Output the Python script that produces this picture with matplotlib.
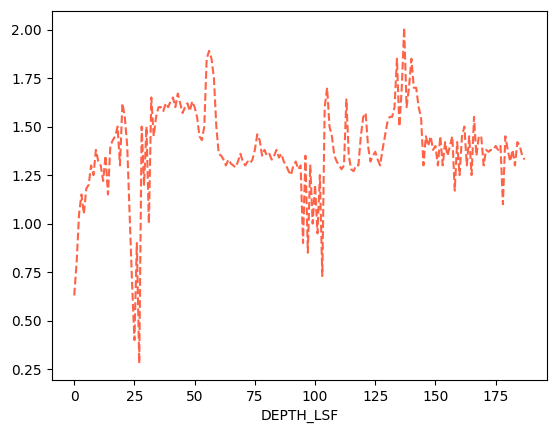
import numpy as np
import matplotlib.pyplot as plt

# log values sampled on an even depth grid
values = [
    0.63, 0.80, 1.05, 1.15, 1.05, 1.18, 1.20, 1.30, 1.25, 1.38,
    1.32, 1.30, 1.22, 1.35, 1.15, 1.40, 1.43, 1.45, 1.50, 1.30,
    1.62, 1.55, 1.40, 1.05, 0.70, 0.40, 0.90, 0.28, 1.50, 1.20,
    1.50, 1.00, 1.65, 1.45, 1.55, 1.60, 1.60, 1.58, 1.62, 1.60,
    1.63, 1.65, 1.60, 1.67, 1.62, 1.57, 1.60, 1.62, 1.58, 1.63,
    1.60, 1.55, 1.45, 1.43, 1.50, 1.85, 1.89, 1.85, 1.75, 1.50,
    1.36, 1.35, 1.33, 1.30, 1.33, 1.31, 1.30, 1.29, 1.32, 1.36,
    1.32, 1.30, 1.32, 1.31, 1.33, 1.38, 1.46, 1.43, 1.35, 1.38,
    1.35, 1.36, 1.33, 1.35, 1.38, 1.34, 1.36, 1.32, 1.30, 1.27,
    1.25, 1.30, 1.32, 1.28, 1.30, 0.90, 1.35, 0.85, 1.30, 1.00,
    1.20, 0.95, 1.25, 0.73, 1.60, 1.70, 1.50, 1.45, 1.35, 1.32,
    1.30, 1.28, 1.30, 1.64, 1.35, 1.28, 1.27, 1.30, 1.30, 1.45,
    1.55, 1.57, 1.40, 1.32, 1.35, 1.37, 1.33, 1.30, 1.38, 1.45,
    1.52, 1.55, 1.55, 1.60, 1.85, 1.50, 1.70, 2.01, 1.60, 1.70,
    1.85, 1.70, 1.70, 1.60, 1.55, 1.30, 1.45, 1.40, 1.45, 1.38,
    1.40, 1.30, 1.45, 1.30, 1.42, 1.35, 1.40, 1.45, 1.17, 1.42,
    1.25, 1.45, 1.50, 1.30, 1.45, 1.25, 1.55, 1.35, 1.45, 1.45,
    1.30, 1.38, 1.37, 1.38, 1.38, 1.40, 1.38, 1.40, 1.10, 1.45,
    1.38, 1.32, 1.38, 1.30, 1.42, 1.40, 1.35, 1.33,
]
depth = np.linspace(0, 187, len(values))

fig, ax = plt.subplots(figsize=(5.56, 4.32), dpi=100)
ax.plot(depth, values, linestyle='--', color='#ff6347')
ax.set_xlabel("DEPTH_LSF")
ax.set_yticks([0.25, 0.5, 0.75, 1.0, 1.25, 1.5, 1.75, 2.0])
fig.subplots_adjust(left=0.093, right=0.984, top=0.975, bottom=0.12)
fig.savefig("out.png")
